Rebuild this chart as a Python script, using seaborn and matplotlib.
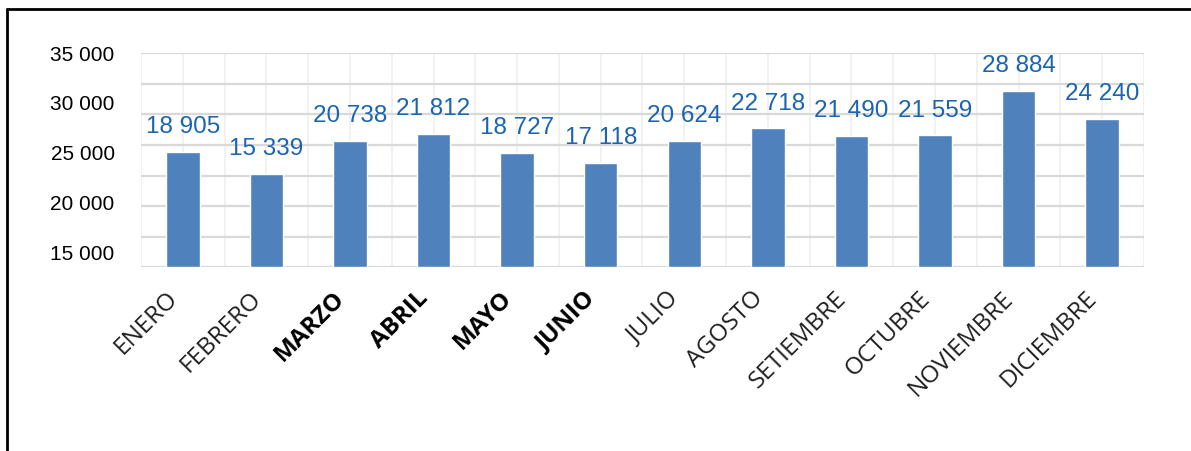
import matplotlib.pyplot as plt
import seaborn as sns
import pandas as pd
from matplotlib.lines import Line2D

months = ["ENERO", "FEBRERO", "MARZO", "ABRIL", "MAYO", "JUNIO",
          "JULIO", "AGOSTO", "SETIEMBRE", "OCTUBRE", "NOVIEMBRE", "DICIEMBRE"]
values = [18905, 15339, 20738, 21812, 18727, 17118,
          20624, 22718, 21490, 21559, 28884, 24240]
# tick labels shown on the left (they sit on their own scale in the picture)
ytick_vals = [15000, 20000, 25000, 30000, 35000]
bold_months = ["MARZO", "ABRIL", "MAYO", "JUNIO"]

sns.set_style("white")
plt.rcParams['font.family'] = ['Open Sans', 'DejaVu Sans']

df = pd.DataFrame({"mes": months, "valor": values})

fig = plt.figure(figsize=(11.91, 4.51), dpi=100)
ax = fig.add_axes([0.1184, 0.4073, 0.8421, 0.4745])

sns.barplot(data=df, x="mes", y="valor", color="#4F81BD", width=0.4,
            saturation=1, ax=ax, zorder=3)

ax.set_ylim(0, 35000)
ax.set_xlim(-0.5, len(months) - 0.5)
ax.set_yticks(range(0, 35001, 5000))
ax.set_yticklabels([])
ax.tick_params(axis="y", length=0)
ax.set_xticks([i - 0.5 for i in range(len(months) + 1)], minor=True)
ax.grid(axis="y", color="#D9D9D9", lw=1.6, zorder=0)
ax.grid(axis="x", which="both", color="#EFEFEF", lw=1.2, zorder=0)
ax.set_axisbelow(True)
for s in ax.spines.values():
    s.set_visible(False)
ax.set_xlabel("")
ax.set_ylabel("")

# data labels
arial = ['Liberation Sans', 'DejaVu Sans']
labels = [f"{v:,}".replace(",", " ") for v in values]
ax.bar_label(ax.containers[0], labels=labels, padding=10, color="#1A64B0",
             fontsize=17.5, family=arial)

# month labels
ax.tick_params(axis="x", which="both", length=0, pad=14)
for t in ax.get_xticklabels():
    t.set_rotation(45)
    t.set_ha("right")
    t.set_va("top")
    t.set_fontsize(17.5)
    if t.get_text() in bold_months:
        t.set_color("black")
        t.set_fontweight("bold")
    else:
        t.set_color("#1F1F1F")

# y labels on their own scale
ax2 = ax.twinx()
ax2.set_ylim(13460, 35000)
ax2.yaxis.tick_left()
ax2.set_yticks(ytick_vals)
ax2.set_yticklabels([f"{v:,}".replace(",", " ") for v in ytick_vals],
                    family=arial, fontsize=15, color="black")
ax2.tick_params(axis="y", length=0, pad=19)
ax2.grid(False)
for s in ax2.spines.values():
    s.set_visible(False)

# outer frame (top and left edges only)
fig.add_artist(Line2D([7 / 1191, 1], [1 - 9 / 451, 1 - 9 / 451],
                      transform=fig.transFigure, color="black", lw=2))
fig.add_artist(Line2D([7 / 1191, 7 / 1191], [0, 1 - 9 / 451],
                      transform=fig.transFigure, color="black", lw=2))

plt.savefig("out.png", dpi=100)
